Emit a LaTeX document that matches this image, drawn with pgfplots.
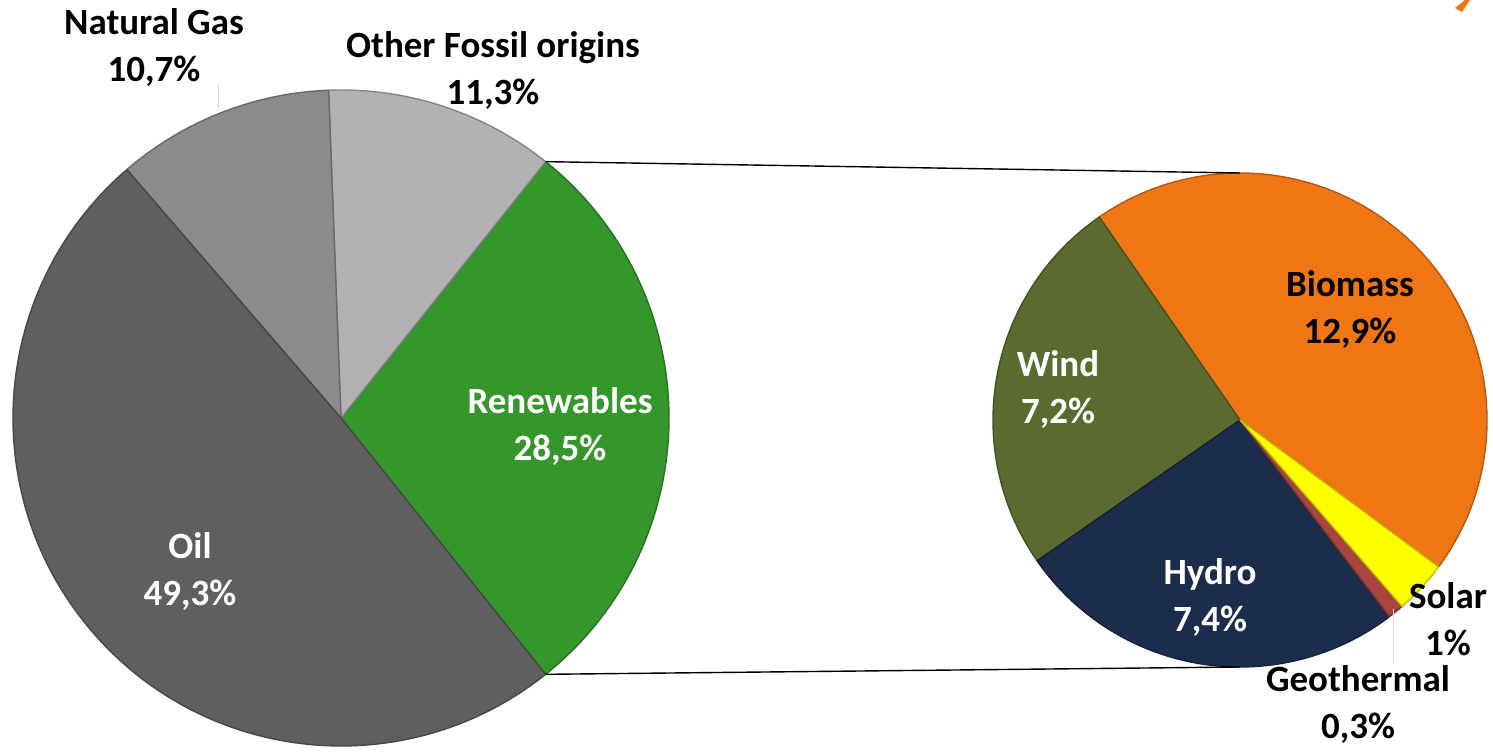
\documentclass[border=0pt]{standalone}
\usepackage{pgfplots}
\pgfplotsset{compat=1.18}
\usepackage{fontspec}
\setmainfont{Carlito}
\definecolor{cRen}{HTML}{35962C}
\definecolor{cOth}{HTML}{B2B2B2}
\definecolor{cGas}{HTML}{8B8B8B}
\definecolor{cOil}{HTML}{5F5F5F}
\definecolor{cBio}{HTML}{F07614}
\definecolor{cWin}{HTML}{5B6B2F}
\definecolor{cHyd}{HTML}{1B2D4B}
\definecolor{cGeo}{HTML}{A9443E}
\definecolor{cSol}{HTML}{FFFF00}
% values (counter-clockwise order)
% main pie: Renewables, Other Fossil origins, Natural Gas, Oil
\def\mainvals{28.5,11.3,10.7,49.3}
% secondary pie (breakdown of Renewables): Biomass, Wind, Hydro, Geothermal, Solar
\def\subvals{12.9,7.2,7.4,0.3,1}
\newcommand\computepie[3]{%
  \xdef\tot{0}%
  \foreach \v in #2{\pgfmathparse{\tot+\v}\xdef\tot{\pgfmathresult}}%
  \xdef\cur{#3}%
  \foreach \v [count=\i] in #2{%
    \pgfmathparse{\cur+\v/\tot*360}\xdef\nxt{\pgfmathresult}%
    \expandafter\xdef\csname #1s\i\endcsname{\cur}%
    \expandafter\xdef\csname #1e\i\endcsname{\nxt}%
    \xdef\cur{\nxt}%
  }%
}
\computepie{m}{\mainvals}{-51.4}
\computepie{s}{\subvals}{-36.5}
\newcommand\piewedge[6]{% cx cy R prefix index color
  \filldraw[fill=#6, draw=#6!75!black, line width=0.7pt, line join=round]
    (axis cs:#1,#2) -- ++(\csname #4s#5\endcsname:#3)
    arc[start angle=\csname #4s#5\endcsname, end angle=\csname #4e#5\endcsname, radius=#3] -- cycle;}
\begin{document}
\begin{tikzpicture}
\begin{axis}[scale only axis, width=746.5pt, height=377pt,
  xmin=0, xmax=1493, ymin=0, ymax=754, hide axis, clip=false]
\addplot[draw=none] coordinates {(0,0) (1493,754)};
\coordinate (BL) at (axis cs:0,0);
\coordinate (TR) at (axis cs:1493,754);
% main pie
\piewedge{341}{336}{164pt}{m}{1}{cRen}
\piewedge{341}{336}{164pt}{m}{2}{cOth}
\piewedge{341}{336}{164pt}{m}{3}{cGas}
\piewedge{341}{336}{164pt}{m}{4}{cOil}
% secondary pie
\piewedge{1240}{334}{123.5pt}{s}{1}{cBio}
\piewedge{1240}{334}{123.5pt}{s}{2}{cWin}
\piewedge{1240}{334}{123.5pt}{s}{3}{cHyd}
\piewedge{1240}{334}{123.5pt}{s}{4}{cGeo}
\piewedge{1240}{334}{123.5pt}{s}{5}{cSol}
% connector lines
\draw[black, line width=0.7pt] (axis cs:341,336) ++(\csname me1\endcsname:164pt) -- (axis cs:1240,581);
\draw[black, line width=0.7pt] (axis cs:341,336) ++(\csname ms1\endcsname:164pt) -- (axis cs:1240,87);
% leader lines
\draw[black!15, line width=0.4pt] (axis cs:218,670) -- (axis cs:218,645);
\draw[black!15, line width=0.4pt] (axis cs:1393,145) -- (axis cs:1393,92);
% logo fragment
\fill[cBio] (axis cs:1455,746) -- (axis cs:1465,754) -- (axis cs:1470,754) -- (axis cs:1462,742) -- cycle;
% labels
\tikzset{lab/.style={font=\fontsize{18.5}{23.5}\selectfont\bfseries, align=center, inner sep=0pt}}
\node[lab, black] at (axis cs:154,706) {Natural Gas\\10,7\%};
\node[lab, black] at (axis cs:493,683) {Other Fossil origins\\11,3\%};
\node[lab, white] at (axis cs:560,327) {Renewables\\28,5\%};
\node[lab, white] at (axis cs:190,182) {Oil\\49,3\%};
\node[lab, black] at (axis cs:1350,444) {Biomass\\12,9\%};
\node[lab, white] at (axis cs:1058,364) {Wind\\7,2\%};
\node[lab, white] at (axis cs:1210,156) {Hydro\\7,4\%};
\node[lab, black] at (axis cs:1448,135) {Solar\\1\%};
\node[lab, black] at (axis cs:1358,49) {Geothermal\\0,3\%};
\end{axis}
\pgfresetboundingbox
\path[use as bounding box] (BL) rectangle (TR);
\end{tikzpicture}
\end{document}
